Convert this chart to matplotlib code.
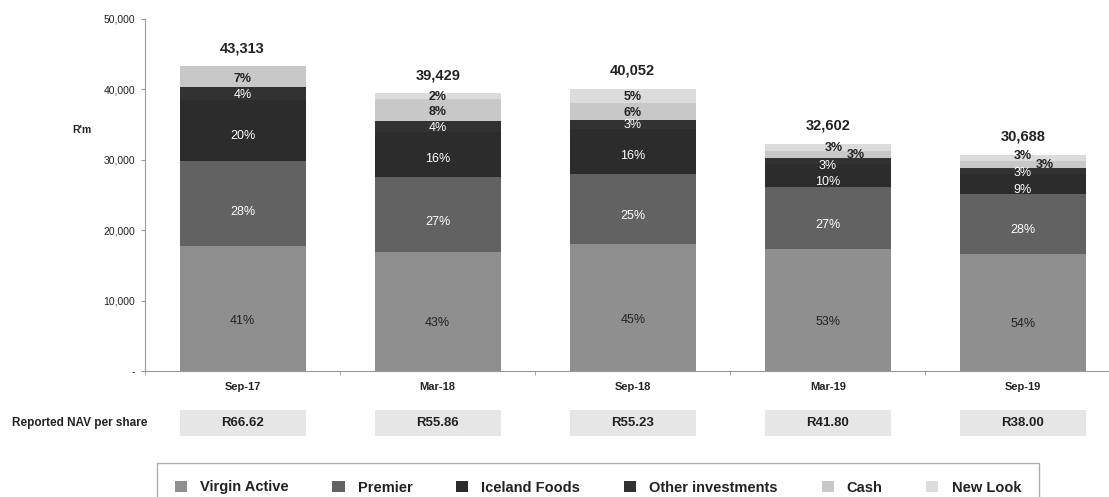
import numpy as np
import matplotlib
matplotlib.use('Agg')
import matplotlib.pyplot as plt

plt.rcParams['font.family'] = ['Liberation Sans', 'DejaVu Sans']

# data
periods = ['Sep-17', 'Mar-18', 'Sep-18', 'Mar-19', 'Sep-19']
totals = [43313, 39429, 40052, 32602, 30688]
nav_per_share = ['R66.62', 'R55.86', 'R55.23', 'R41.80', 'R38.00']

series_names = ['Virgin Active', 'Premier', 'Iceland Foods', 'Other investments', 'Cash', 'New Look']
virgin_active = [41, 43, 45, 53, 54]
premier = [28, 27, 25, 27, 28]
iceland_foods = [20, 16, 16, 10, 9]
other_investments = [4, 4, 3, 3, 3]
cash = [7, 8, 6, 3, 3]
new_look = [0, 2, 5, 3, 3]

series_pcts = [virgin_active, premier, iceland_foods, other_investments, cash, new_look]
colors = ['#8f8f8f', '#626262', '#2c2c2c', '#323232', '#c8c8c8', '#dcdcdc']
text_colors = ['#222222', 'white', 'white', 'white', '#222222', '#222222']
text_weights = ['normal', 'normal', 'normal', 'normal', 'bold', 'bold']

# hand nudges (points) for crowded small labels: (series, bar) -> (dx, dy)
nudges = {
    (5, 3): (4, 0), (4, 3): (20, 0), (3, 3): (0, -3), (2, 3): (0, -3),
    (5, 4): (0, 2), (4, 4): (16, 0), (3, 4): (0, -1), (2, 4): (0, -3),
}

fig = plt.figure(figsize=(11.09, 4.97), dpi=100)
W, H = 1109, 497
ax = fig.add_axes([145 / W, 1 - 371 / H, (W - 145) / W, (371 - 19) / H])

x = np.arange(len(periods))
bar_w = 0.646
totals_arr = np.array(totals, dtype=float)
bottom = np.zeros(len(periods))
handles = []
for i, pcts in enumerate(series_pcts):
    vals = totals_arr * np.array(pcts) / 100.0
    bars = ax.bar(x, vals, bar_w, bottom=bottom, color=colors[i], edgecolor='none',
                  label=series_names[i])
    handles.append(bars)
    for j, v in enumerate(vals):
        if pcts[j] == 0:
            continue
        dx, dy = nudges.get((i, j), (0, 0))
        ax.annotate(f'{pcts[j]}%', (x[j], bottom[j] + 0.4 * v), xytext=(dx, dy),
                    textcoords='offset points', ha='center', va='center',
                    fontsize=9, color=text_colors[i], fontweight=text_weights[i])
    bottom += vals

for j, t in enumerate(totals):
    ax.annotate(f'{t:,}', (x[j], bottom[j]), xytext=(0, 13), textcoords='offset points',
                ha='center', va='center', fontsize=10.5, fontweight='bold', color='#222222')

ax.set_xlim(-0.5, (W - 243) / 195)
ax.set_ylim(0, 50000)
ax.set_yticks(np.arange(0, 50001, 10000))
ax.set_yticklabels(['-'] + [f'{v:,}' for v in range(10000, 50001, 10000)])
ax.set_xticks(x)
ax.set_xticklabels(periods, fontweight='bold', fontsize=8)
ax.set_xticks(np.arange(-0.5, 4.0, 1.0), minor=True)
ax.tick_params(axis='x', which='major', length=0, pad=8, colors='#222222')
ax.tick_params(axis='x', which='minor', length=3, color='#999999', direction='out')
ax.tick_params(axis='y', length=3, color='#999999', labelsize=7.5, labelcolor='#222222', pad=4)
for s in ['top', 'right']:
    ax.spines[s].set_visible(False)
for s in ['left', 'bottom']:
    ax.spines[s].set_color('#999999')
ax.set_ylabel("R'm", rotation=0, fontsize=7.5, fontweight='bold', color='#222222')
ax.yaxis.set_label_coords((82 - 145) / (W - 145), (371 - 135) / (371 - 19))

# NAV per share row
ax2 = fig.add_axes([145 / W, 1 - 436 / H, (W - 145) / W, 26 / H])
ax2.bar(x, [1] * len(x), bar_w, color='#e6e6e6', edgecolor='none')
for j, s in enumerate(nav_per_share):
    ax2.text(x[j], 0.5, s, ha='center', va='center', fontsize=9.5, fontweight='bold',
             color='#222222')
ax2.set_xlim(ax.get_xlim())
ax2.set_ylim(0, 1)
ax2.axis('off')
fig.text(12 / W, 1 - 423 / H, 'Reported NAV per share', ha='left', va='center',
         fontsize=8.5, fontweight='bold', color='#222222')

leg = fig.legend(handles=handles, labels=series_names, loc='upper center',
                 bbox_to_anchor=(598 / W, 1 - 463 / H), ncol=6, fontsize=10.5,
                 frameon=True, fancybox=False, edgecolor='#999999', borderpad=1.2,
                 columnspacing=3.0, handlelength=0.83, handleheight=0.83,
                 handletextpad=0.9, borderaxespad=0)
leg.get_frame().set_linewidth(1.0)
for t in leg.get_texts():
    t.set_fontweight('bold')
    t.set_color('#222222')

fig.savefig('out.png', dpi=100)
